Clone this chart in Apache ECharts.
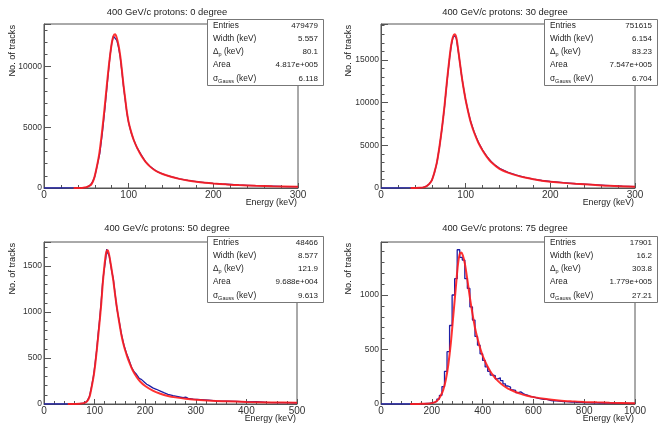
<!DOCTYPE html>
<html>
<head>
<meta charset="utf-8">
<script src="https://cdn.jsdelivr.net/npm/echarts@6/dist/echarts.min.js"></script>
<style>
  html, body { margin: 0; padding: 0; background: #fff; }
  #chart { width: 658px; height: 428px; }
</style>
</head>
<body>
<div id="chart"></div>
<script>
// panel titles
const titles = [
  '400 GeV/c protons: 0 degree',
  '400 GeV/c protons: 30 degree',
  '400 GeV/c protons: 50 degree',
  '400 GeV/c protons: 75 degree'
]

// stats boxes
const statNames = ['Entries', 'Width (keV)', '{a|Δ}{s|p}{a| (keV)}', 'Area', '{a|σ}{s|Gauss}{a| (keV)}']
const stats0 = ['479479', '5.557', '80.1', '4.817e+005', '6.118']
const stats30 = ['751615', '6.154', '83.23', '7.547e+005', '6.704']
const stats50 = ['48466', '8.577', '121.9', '9.688e+004', '9.613']
const stats75 = ['17901', '16.2', '303.8', '1.779e+005', '27.21']

// 0 degree
const hist0E = [0, 10, 20, 30, 40, 45, 50, 54, 57, 60, 63, 66, 69, 72, 75, 78, 80, 82, 84, 86, 88, 90, 92, 94, 96, 98, 100, 103, 106, 110, 115, 120, 125, 130, 135, 140, 145, 150, 160, 170, 180, 190, 200, 210, 220, 230, 240, 250, 260, 270, 280, 290, 300]
const hist0N = [0, 0, 0, 5, 5, 15, 60, 200, 450, 950, 1900, 2900, 4600, 6600, 8800, 10900, 11900, 12500, 12450, 12150, 11600, 10800, 9600, 8300, 7200, 6150, 5350, 4550, 3950, 3300, 2700, 2150, 1800, 1520, 1300, 1170, 1030, 930, 760, 630, 520, 440, 380, 330, 290, 250, 220, 190, 170, 150, 130, 120, 105]
const fit0E = [35, 40, 45, 50, 53, 56, 59, 62, 65, 68, 71, 74, 77, 80, 82, 84, 86, 88, 90, 92, 94, 96, 98, 100, 103, 106, 110, 115, 120, 125, 130, 135, 140, 150, 160, 170, 180, 190, 200, 215, 230, 250, 270, 300]
const fit0N = [0, 2, 10, 60, 150, 300, 750, 1600, 2700, 4300, 6200, 8300, 10300, 11900, 12500, 12650, 12350, 11750, 10900, 9700, 8400, 7300, 6200, 5400, 4600, 3950, 3300, 2650, 2150, 1780, 1500, 1300, 1150, 920, 750, 620, 510, 430, 370, 300, 240, 190, 150, 110]

// 30 degree
const hist30E = [0, 10, 20, 30, 40, 45, 50, 54, 57, 60, 63, 66, 69, 72, 75, 78, 81, 83, 85, 87, 89, 91, 93, 95, 97, 100, 103, 106, 110, 115, 120, 125, 130, 135, 140, 150, 160, 170, 180, 190, 200, 215, 230, 250, 270, 285, 300]
const hist30N = [0, 0, 0, 5, 5, 18, 70, 230, 470, 880, 1750, 2950, 4750, 6950, 9500, 12500, 15200, 16700, 17600, 17850, 17500, 16200, 14800, 13300, 12000, 10300, 8950, 7750, 6550, 5350, 4450, 3700, 3100, 2650, 2300, 1830, 1500, 1240, 1040, 880, 760, 620, 500, 390, 280, 220, 170]
const fit30E = [35, 40, 45, 50, 54, 57, 60, 63, 66, 69, 72, 75, 78, 81, 83, 85, 87, 89, 91, 93, 95, 97, 100, 103, 106, 110, 115, 120, 125, 130, 140, 150, 160, 170, 180, 190, 200, 215, 230, 250, 270, 300]
const fit30N = [0, 3, 15, 70, 230, 480, 900, 1800, 3000, 4800, 7000, 9600, 12600, 15300, 16800, 17700, 18000, 17600, 16300, 14800, 13300, 12000, 10300, 8900, 7700, 6500, 5300, 4400, 3650, 3050, 2250, 1800, 1480, 1220, 1020, 860, 740, 600, 490, 380, 260, 160]

// 50 degree
const hist50E = [0, 20, 40, 60, 70, 80, 85, 90, 94, 98, 101, 104, 107, 110, 113, 116, 118, 120, 122, 124, 125, 127, 129, 131, 134, 137, 140, 144, 148, 153, 158, 163, 168, 173, 178, 183, 188, 193, 198, 203, 208, 215, 222, 230, 238, 245, 255, 265, 275, 280, 285, 295, 310, 325, 340, 360, 380, 400, 420, 440, 460, 480, 500]
const hist50N = [0, 0, 0, 2, 4, 10, 30, 85, 190, 310, 440, 580, 760, 920, 1110, 1330, 1420, 1500, 1580, 1685, 1650, 1640, 1610, 1540, 1440, 1360, 1220, 1040, 920, 760, 640, 550, 480, 400, 350, 320, 280, 265, 240, 215, 200, 175, 160, 140, 120, 105, 90, 80, 68, 75, 62, 52, 48, 42, 35, 32, 28, 24, 25, 18, 16, 14, 12]
const fit50E = [47, 60, 70, 80, 85, 90, 94, 98, 101, 104, 107, 110, 113, 116, 119, 122, 124, 126, 128, 131, 134, 137, 140, 144, 148, 153, 158, 163, 168, 175, 183, 190, 200, 215, 230, 245, 260, 280, 300, 330, 360, 400, 450, 500]
const fit50N = [0, 1, 3, 12, 28, 80, 180, 300, 420, 570, 730, 900, 1080, 1300, 1480, 1620, 1665, 1670, 1640, 1550, 1450, 1340, 1210, 1050, 910, 750, 630, 540, 460, 370, 295, 245, 195, 145, 112, 88, 72, 56, 46, 36, 30, 23, 17, 13]

// 75 degree: 10 keV bins from 0 to 1000
const hist75N = [
  0, 0, 0, 0, 0, 0, 0, 0, 0, 0,
  0, 1, 0, 1, 2, 2, 3, 5, 6, 10,
  14, 25, 45, 80, 160, 300, 480, 720, 1000, 1150,
  1415, 1345, 1320, 1150, 1060, 890, 770, 620, 540, 460,
  400, 340, 300, 265, 260, 230, 240, 215, 185, 165,
  155, 130, 125, 105, 112, 95, 85, 78, 68, 65,
  58, 52, 48, 42, 44, 38, 32, 30, 28, 27,
  25, 22, 21, 20, 18, 20, 16, 14, 16, 13,
  12, 13, 11, 10, 11, 9, 10, 8, 8, 9,
  7, 8, 6, 7, 6, 5, 6, 5, 5, 5
]
const fit75E = [115, 150, 180, 200, 215, 225, 235, 245, 255, 265, 275, 285, 295, 303, 310, 316, 322, 330, 340, 350, 360, 370, 380, 390, 400, 415, 430, 445, 460, 480, 500, 525, 550, 575, 600, 650, 700, 750, 800, 850, 900, 1000]
const fit75N = [0, 1, 3, 8, 20, 40, 75, 130, 220, 360, 560, 820, 1080, 1280, 1375, 1390, 1365, 1290, 1140, 975, 830, 700, 600, 515, 445, 365, 300, 250, 212, 172, 142, 115, 93, 76, 63, 45, 33, 25, 19, 15, 12, 8]

const FONT = 'Liberation Sans, Arial, sans-serif'
const BLUE = '#1e1ea6'
const RED = '#ff1c1c'

const pair = (xs, ys) => xs.map((x, i) => [x, ys[i]])

const grids = [
  { left: 44, top: 24, width: 254, height: 164 },
  { left: 381, top: 24, width: 254, height: 164 },
  { left: 44, top: 242, width: 253, height: 162 },
  { left: 381, top: 242, width: 254, height: 162 }
]
const xMax = [300, 300, 500, 1000]
const xStep = [100, 100, 100, 200]
const yMax = [13500, 19200, 1761, 1486]
const yStep = [5000, 5000, 500, 500]

const chart = echarts.init(document.getElementById('chart'))

const xAxis = grids.map((g, i) => ({
  type: 'value', gridIndex: i, min: 0, max: xMax[i], interval: xStep[i],
  axisLine: { show: true, onZero: false, lineStyle: { color: '#555', width: 1 } },
  axisTick: { show: true, inside: true, length: 5, lineStyle: { color: '#555' } },
  minorTick: { show: true, splitNumber: 5, length: 3, lineStyle: { color: '#555' } },
  axisLabel: { color: '#333', fontSize: 10, fontFamily: FONT, margin: 2, formatter: v => String(v) },
  splitLine: { show: false }
}))

const yAxis = grids.map((g, i) => ({
  type: 'value', gridIndex: i, min: 0, max: yMax[i], interval: yStep[i],
  axisLine: { show: true, lineStyle: { color: '#555', width: 1 } },
  axisTick: { show: true, inside: true, length: 7, lineStyle: { color: '#555' } },
  minorTick: { show: true, splitNumber: 5, length: 3.5, lineStyle: { color: '#555' } },
  axisLabel: { color: '#333', fontSize: 8.5, fontFamily: FONT, margin: 2, showMaxLabel: false, formatter: v => String(v) },
  splitLine: { show: false }
}))

const hist75 = hist75N.map((v, i) => [i * 10, v])
hist75.push([1000, hist75N[hist75N.length - 1]])

const histSeries = [pair(hist0E, hist0N), pair(hist30E, hist30N), pair(hist50E, hist50N), hist75]
const fitSeries = [pair(fit0E, fit0N), pair(fit30E, fit30N), pair(fit50E, fit50N), pair(fit75E, fit75N)]

const series = []
histSeries.forEach((d, i) => {
  series.push({
    type: 'line', xAxisIndex: i, yAxisIndex: i, data: d,
    step: i === 3 ? 'end' : false,
    showSymbol: false, silent: true,
    lineStyle: { color: BLUE, width: 1.3 }
  })
})
fitSeries.forEach((d, i) => {
  series.push({
    type: 'line', xAxisIndex: i, yAxisIndex: i, data: d,
    smooth: 0.3, showSymbol: false, silent: true,
    lineStyle: { color: RED, width: 2, opacity: 0.9 }
  })
})

// titles, axis titles, stats boxes
const graphic = []
const titleX = [167, 505, 167, 505]
const titleY = [12, 12, 228, 228]
const yTitleX = [12, 348, 12, 348]
const statsAll = [stats0, stats30, stats50, stats75]
const boxes = [
  { x: 207, y: 19, w: 116, h: 66 },
  { x: 544, y: 19, w: 113, h: 66 },
  { x: 207, y: 236, w: 116, h: 66 },
  { x: 544, y: 236, w: 113, h: 66 }
]
grids.forEach((g, i) => {
  graphic.push({
    type: 'text', x: titleX[i], y: titleY[i], z: 100,
    style: { text: titles[i], font: '9.4px ' + FONT, fill: '#222', align: 'center', verticalAlign: 'middle' }
  })
  graphic.push({
    type: 'text', x: yTitleX[i], y: g.top + 1, rotation: Math.PI / 2, z: 100,
    style: { text: 'No. of tracks', font: '9.2px ' + FONT, fill: '#222', align: 'right', verticalAlign: 'middle' }
  })
  graphic.push({
    type: 'text', x: g.left + g.width - 1, y: g.top + g.height + 15, z: 100,
    style: { text: 'Energy (keV)', font: '8.8px ' + FONT, fill: '#222', align: 'right', verticalAlign: 'middle' }
  })
  const b = boxes[i]
  graphic.push({
    type: 'rect', z: 100,
    shape: { x: b.x + 0.5, y: b.y + 0.5, width: b.w, height: b.h },
    style: { fill: '#fff', stroke: '#777', lineWidth: 1 }
  })
  statNames.forEach((name, r) => {
    const ry = b.y + 6.5 + r * 13.2
    graphic.push({
      type: 'text', x: b.x + 6, y: ry, z: 101,
      style: {
        text: name.startsWith('{') ? name : '{a|' + name + '}',
        font: '8.3px ' + FONT, fill: '#222', align: 'left', verticalAlign: 'middle',
        rich: {
          a: { fontSize: 8.3, fontFamily: FONT, fill: '#222', lineHeight: 12 },
          s: { fontSize: 5.5, fontFamily: FONT, fill: '#222', lineHeight: 5, verticalAlign: 'bottom' }
        }
      }
    })
    graphic.push({
      type: 'text', x: b.x + b.w - 5, y: ry, z: 101,
      style: { text: statsAll[i][r], font: '8px ' + FONT, fill: '#222', align: 'right', verticalAlign: 'middle' }
    })
  })
})

const option = {
  backgroundColor: '#fff',
  animation: false,
  grid: grids.map(g => Object.assign({ show: true, borderColor: '#555', borderWidth: 1, backgroundColor: 'transparent' }, g)),
  xAxis: xAxis,
  yAxis: yAxis,
  series: series,
  graphic: graphic
}
chart.setOption(option)
window.addEventListener('resize', function() {
  chart.resize()
})
</script>
</body>
</html>
